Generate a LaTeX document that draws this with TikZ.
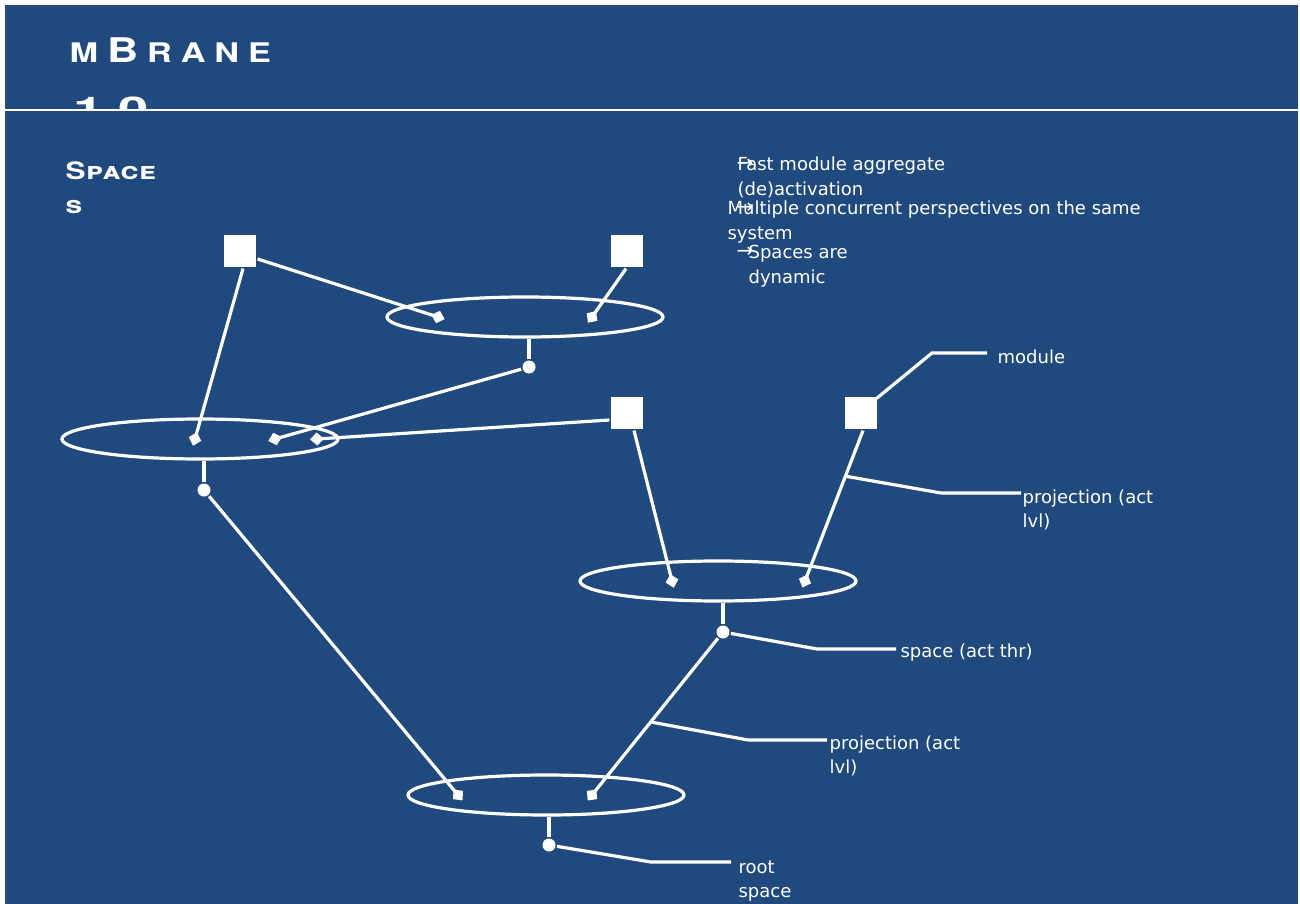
\documentclass[tikz,border=0pt]{standalone}
\usepackage{fontspec}
\setmainfont{DejaVu Sans}
\newfontfamily\titlefont{TeX Gyre Heros}
\usetikzlibrary{arrows.meta,calc,shapes.geometric}
\definecolor{bg}{RGB}{32,74,126}
\begin{document}
\begin{tikzpicture}[x=1pt,y=-1pt,line width=3.2pt,draw=white,
  module/.style={fill=white,draw=none,minimum size=32pt,inner sep=0pt},
  spacenode/.style={ellipse,draw=white,line width=3.2pt,minimum width=276pt,minimum height=40pt,inner sep=0pt},
  dotnode/.style={circle,fill=white,draw=none,minimum size=13pt,inner sep=0pt},
  proj/.style={-{Diamond[length=14pt,width=13pt]},shorten >=-7pt},
  lbl/.style={anchor=base west,inner sep=0pt,text=white,font=\fontsize{18}{25}\selectfont},
  callout/.style={line width=3.2pt}]
\useasboundingbox (0,0) rectangle (1300,904);
\fill[white] (0,0) rectangle (1300,904);
\fill[bg] (5,5) rectangle (1298,904);
% header
\draw[line width=2.2pt] (5,110) -- (1298,110);
\node[anchor=base west,inner sep=0pt,text=white,font=\titlefont\bfseries\fontsize{34}{34}\selectfont] (title) at (68,63)
  {\scalebox{1.27}[1]{{\fontsize{27}{27}\selectfont M}\kern7pt B\kern7pt{\fontsize{27}{27}\selectfont R\kern7pt A\kern7pt N\kern7pt E}}};
\begin{scope}
\clip (0,0) rectangle (1300,109);
\node[anchor=base west,inner sep=0pt,text=white,font=\titlefont\bfseries\fontsize{34}{34}\selectfont] (ver) at (72,122)
  {\scalebox{1.6}[1]{1.0}};
\end{scope}
\node[anchor=base west,inner sep=0pt,text=white,font=\titlefont\bfseries\fontsize{24}{24}\selectfont] (sp1) at (64,180)
  {\scalebox{1.25}[1]{\addfontfeatures{LetterSpace=2}\textsc{Space}}};
\node[anchor=base west,inner sep=0pt,text=white,font=\titlefont\bfseries\fontsize{24}{24}\selectfont] (sp2) at (64,213)
  {\scalebox{1.25}[1]{\textsc{s}}};
% bullet text
\node[lbl] (b1a) at (736,171) {Fast module aggregate};
\node[lbl] (b1b) at (736,196) {(de)activation};
\node[lbl] (b2a) at (726,214) {Multiple concurrent perspectives on the same};
\node[lbl] (b2b) at (726,239) {system};
\node[lbl] (b3a) at (747,258) {Spaces are};
\node[lbl] (b3b) at (747,283) {dynamic};
\node[lbl,font=\fontsize{20}{25}\selectfont] (a1) at (735,170) {→};
\node[lbl,font=\fontsize{20}{25}\selectfont] (a2) at (735,213) {→};
\node[lbl,font=\fontsize{20}{25}\selectfont] (a3) at (735,257) {→};
% spaces
\node[spacenode] (s1) at (525,317) {};
\node[spacenode] (s2) at (200,439) {};
\node[spacenode] (s3) at (718,581) {};
\node[spacenode] (s4) at (546,795) {};
% dots
\node[dotnode] (d1) at (529,367) {};
\node[dotnode] (d2) at (204,490) {};
\node[dotnode] (d3) at (723,632) {};
\node[dotnode] (d4) at (549,845) {};
\draw (d1) -- (d1 |- s1.south);
\draw (d2) -- (d2 |- s2.south);
\draw (d3) -- (d3 |- s3.south);
\draw (d4) -- (d4 |- s4.south);
% projection end points
\coordinate (p11) at (438,317);
\coordinate (p12) at (592,317);
\coordinate (p21) at (195,439);
\coordinate (p22) at (275,439);
\coordinate (p23) at (317,439);
\coordinate (p31) at (672,581);
\coordinate (p32) at (805,581);
\coordinate (p41) at (458,795);
\coordinate (p42) at (592,795);
% modules
\node[module] (m1) at (240,251) {};
\node[module] (m2) at (627,251) {};
\node[module] (m3) at (627,413) {};
\node[module] (m4) at (861,413) {};
\coordinate (m4s) at ($(m4.south)+(2,0)$);
% projections
\draw[proj] ($(m1.east)+(0,8)$) -- (p11);
\draw[proj] ($(m2.south)+(-1,0)$) -- (p12);
\draw[proj] ($(m1.south)+(3,0)$) -- (p21);
\draw[proj] (d1) -- (p22);
\draw[proj] ($(m3.west)+(0,7)$) -- (p23);
\draw[proj] ($(m3.south)+(7,0)$) -- (p31);
\draw[proj] (m4s) -- (p32);
\draw[proj] (d2) -- (p41);
\draw[proj] (d3) -- (p42);
% callouts
\coordinate (k1) at (932,353); \coordinate (k1e) at (987,353);
\draw[callout] ($(m4.north east)+(-2,3)$) -- (k1) -- (k1e);
\node[lbl] (lmod) at (996,363) {module};
\coordinate (k2) at (941,493); \coordinate (k2e) at (1021,493);
\draw[callout] ($(m4s)!0.303!(p32)$) -- (k2) -- (k2e);
\node[lbl] (lp1a) at (1021,503) {projection (act};
\node[lbl] (lp1b) at (1021,527) {lvl)};
\coordinate (k3) at (817,649); \coordinate (k3e) at (896,649);
\draw[callout] (d3) -- (k3) -- (k3e);
\node[lbl] (lsp) at (899,657) {space (act thr)};
\coordinate (k4) at (748,740); \coordinate (k4e) at (827,740);
\draw[callout] ($(d3)!0.552!(p42)$) -- (k4) -- (k4e);
\node[lbl] (lp2a) at (828,749) {projection (act};
\node[lbl] (lp2b) at (828,773) {lvl)};
\coordinate (k5) at (651,862); \coordinate (k5e) at (731,862);
\draw[callout] (d4) -- (k5) -- (k5e);
\node[lbl] (lra) at (737,873) {root};
\node[lbl] (lrb) at (737,897) {space};
\end{tikzpicture}
\end{document}
